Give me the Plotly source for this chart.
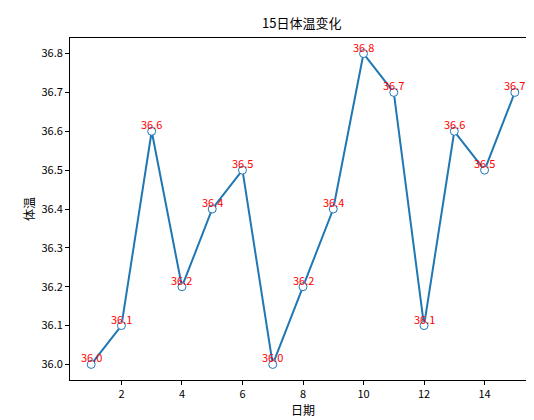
import plotly.graph_objects as go

days = list(range(1, 16))
temps = [36.0, 36.1, 36.6, 36.2, 36.4, 36.5, 36.0, 36.2, 36.4, 36.8, 36.7, 36.1, 36.6, 36.5, 36.7]
labels = [f"{t:.1f}" for t in temps]

font = "Noto Sans CJK SC"
fig = go.Figure(go.Scatter(
    x=days, y=temps, mode="lines+markers",
    line=dict(color="#1f77b4", width=2),
    marker=dict(size=8, color="white", line=dict(color="#1f77b4", width=1)),
    cliponaxis=False,
))
for d, t, s in zip(days, temps, labels):
    fig.add_annotation(x=d, y=t, text=s, showarrow=False, yanchor="bottom", yshift=-3,
                       font=dict(color="red", size=11, family=font))
axis = dict(showgrid=False, zeroline=False, showline=True, mirror=True, automargin=False,
            linecolor="black", linewidth=1, ticks="outside", ticklen=4,
            tickcolor="black", tickfont=dict(size=11, color="black", family=font))
fig.update_layout(
    width=534, height=420, margin=dict(l=62, r=6, t=30, b=48),
    plot_bgcolor="white", paper_bgcolor="white", showlegend=False,
    title=dict(text="15日体温变化", x=0.55, xanchor="center", y=0.975,
               font=dict(size=13, color="black", family=font)),
    xaxis=dict(axis, range=[0.3, 15.7], tickvals=[2, 4, 6, 8, 10, 12, 14],
               title=dict(text="日期", font=dict(size=12, family=font, color="black"), standoff=4)),
    yaxis=dict(axis, range=[35.96, 36.84], tickvals=[36.0, 36.1, 36.2, 36.3, 36.4, 36.5, 36.6, 36.7, 36.8],
               tickformat=".1f",
               title=dict(text="体温", font=dict(size=12, family=font, color="black"), standoff=4)),
)
fig.write_html("out.html")
